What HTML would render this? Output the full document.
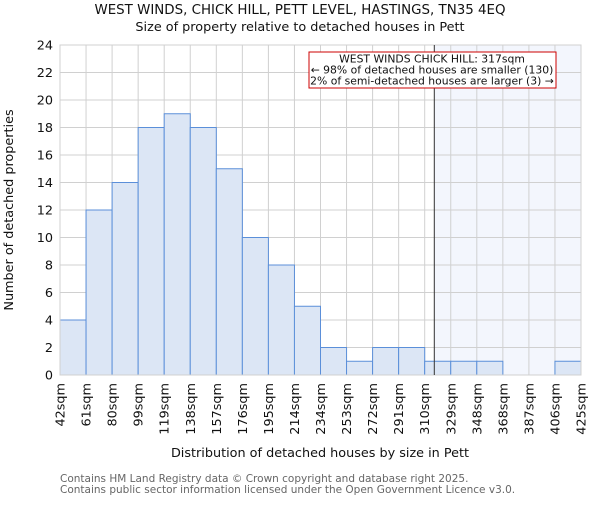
<!DOCTYPE html>
<html><head><meta charset="utf-8"><style>body{margin:0;background:#fff}svg{font-family:"DejaVu Sans","Liberation Sans",sans-serif}</style></head>
<body>
<svg id="c" width="600" height="500" xmlns="http://www.w3.org/2000/svg">
<text x="300" y="14" text-anchor="middle" font-size="13.4" fill="#111">WEST WINDS, CHICK HILL, PETT LEVEL, HASTINGS, TN35 4EQ</text>
<text x="300" y="31" text-anchor="middle" font-size="12.8" fill="#111">Size of property relative to detached houses in Pett</text>
<g id="grid"></g>
<g id="bars"></g>
<g id="axes"></g>
<text transform="translate(13,210) rotate(-90)" text-anchor="middle" font-size="12.8" fill="#111">Number of detached properties</text>
<text x="320" y="457" text-anchor="middle" font-size="12.8" fill="#111">Distribution of detached houses by size in Pett</text>
<text x="60" y="482" font-size="10.5" fill="#666">Contains HM Land Registry data © Crown copyright and database right 2025.</text>
<text x="60" y="493" font-size="10.5" fill="#666">Contains public sector information licensed under the Open Government Licence v3.0.</text>
</svg>
<script>
const categories=["42sqm","61sqm","80sqm","99sqm","119sqm","138sqm","157sqm","176sqm","195sqm","214sqm","234sqm","253sqm","272sqm","291sqm","310sqm","329sqm","348sqm","368sqm","387sqm","406sqm","425sqm"];
const counts=[4,12,14,18,19,18,15,10,8,5,2,1,2,2,1,1,1,0,0,1];
const yTicks=[0,2,4,6,8,10,12,14,16,18,20,22,24];
const binEdges=[42,61,80,99,119,138,157,176,195,214,234,253,272,291,310,329,348,368,387,406,425];
const markerValue=317;
const NS="http://www.w3.org/2000/svg";
const L=60,R=581,T=45,B=375,yMax=24;
const bw=(R-L)/counts.length;
const ys=v=>B-(v/yMax)*(B-T);
const xs=v=>{for(let i=0;i<binEdges.length-1;i++){if(v<=binEdges[i+1])return L+bw*(i+(v-binEdges[i])/(binEdges[i+1]-binEdges[i]));}return R;};
function mk(t,a,p){const e=document.createElementNS(NS,t);for(const k in a)e.setAttribute(k,a[k]);p.appendChild(e);return e;}
const svg=document.getElementById('c'),grid=document.getElementById('grid'),bars=document.getElementById('bars'),axes=document.getElementById('axes');
const mx=xs(markerValue);
const sh=mk('rect',{x:mx,y:T,width:R-mx,height:B-T,fill:'#f3f6fd'},grid);


yTicks.forEach(v=>{const l=mk('line',{x1:L,x2:R,y1:ys(v),y2:ys(v),stroke:'#d0d0d0','stroke-width':1},grid);


const t=mk('text',{x:L-7,y:ys(v)+4.5,'text-anchor':'end','font-size':12.8,fill:'#111'},axes);t.textContent=v;

});
categories.forEach((c,i)=>{const x=L+i*bw;const l=mk('line',{x1:x,x2:x,y1:T,y2:B,stroke:'#d0d0d0','stroke-width':1},grid);


const t=mk('text',{transform:`translate(${x+4.5},${B+8}) rotate(-90)`,'text-anchor':'end','font-size':12.8,fill:'#111'},axes);t.textContent=c;

});
counts.forEach((v,i)=>{if(v<=0)return;const r=mk('rect',{x:L+i*bw,y:ys(v),width:bw,height:B-ys(v),fill:'#dce6f5',stroke:'#5b8fd9','stroke-width':1},bars);

});
mk('rect',{x:L,y:T,width:R-L,height:B-T,fill:'none',stroke:'#d0d0d0'},axes);
const ml=mk('line',{x1:mx,x2:mx,y1:T,y2:B,stroke:'#333','stroke-width':1},axes);


const g=mk('g',{},svg);


mk('rect',{x:309,y:52,width:247,height:36,fill:'#fff',stroke:'#c00','stroke-width':1},g);
[["WEST WINDS CHICK HILL: 317sqm",62.5],["← 98% of detached houses are smaller (130)",73.5],["2% of semi-detached houses are larger (3) →",84.5]].forEach(([s,y])=>{const t=mk('text',{x:432,y:y,'text-anchor':'middle','font-size':10.8,fill:'#111'},g);t.textContent=s;});
</script>
</body></html>
